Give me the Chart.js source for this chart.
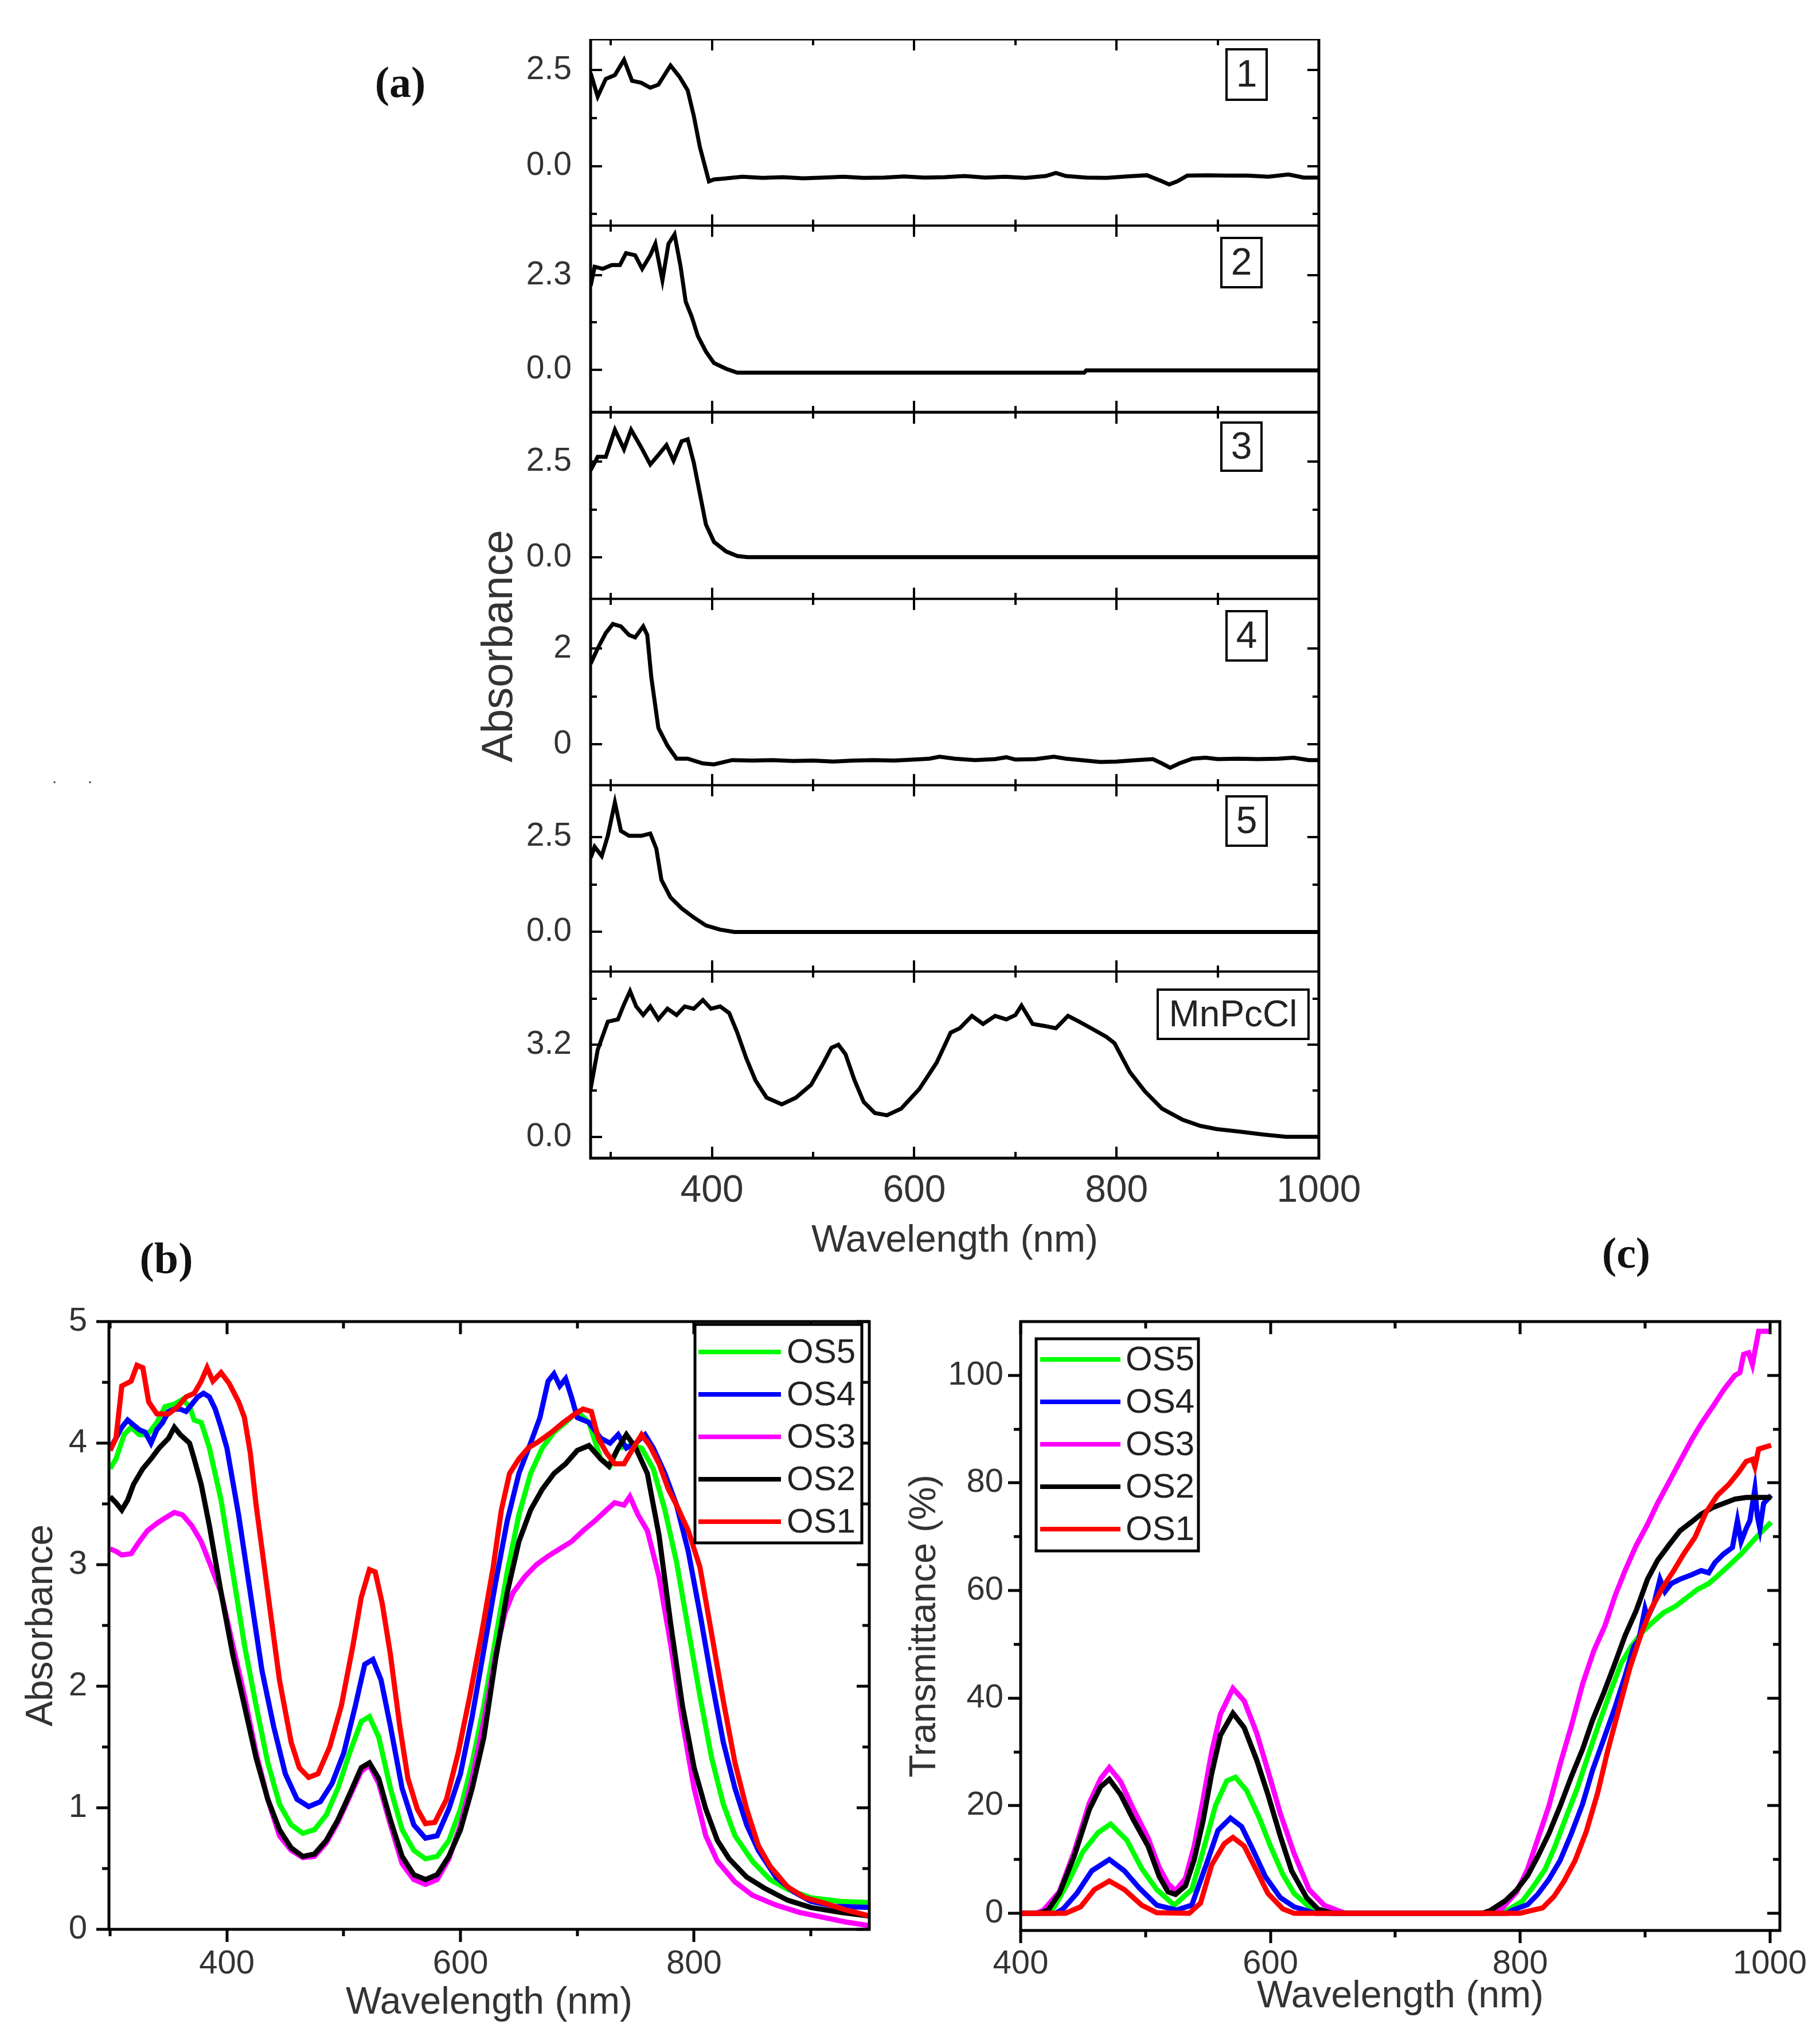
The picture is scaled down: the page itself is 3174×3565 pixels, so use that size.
<!DOCTYPE html>
<html>
<head>
<meta charset="utf-8">
<script src="https://cdn.jsdelivr.net/npm/chart.js@4.4.1/dist/chart.umd.min.js"></script>
<style>
  html, body { margin: 0; padding: 0; background: #fff; }
  body { width: 3174px; height: 3565px; position: relative; overflow: hidden; font-family: "Liberation Sans", Arial, sans-serif; }
  .tag { position: absolute; transform: translate(-50%, -50%); white-space: nowrap; }
  .panel { font-family: "Liberation Serif", "Times New Roman", serif; font-weight: bold; font-size: 76px; color: #111; }
  .ytitle { font-size: 76px; color: #333; transform: translate(-50%, -50%) rotate(-90deg); }
  .dot { font-size: 30px; color: #444; }
</style>
</head>
<body>
<div class="tag panel" style="left:698px;top:143px">(a)</div>
<div class="tag panel" style="left:290px;top:2194px">(b)</div>
<div class="tag panel" style="left:2836px;top:2185px">(c)</div>
<div class="tag ytitle" style="left:866px;top:1127px">Absorbance</div>
<div class="tag dot" style="left:95px;top:1356px">.</div>
<div class="tag dot" style="left:157px;top:1356px">.</div>

<script>
// ---- Panel (a): absorbance of the films, one small panel per sample ----
const panelLabels = ['1', '2', '3', '4', '5', 'MnPcCl']

const absA1 = [[280,2.42],[287,1.81],[295,2.27],[304,2.37],[313,2.77],[321,2.22],[330,2.17],[339,2.04],[347,2.12],[359,2.62],[368,2.32],[376,1.97],[382,1.31],[388,0.5],[397,-0.4],[402,-0.35],[410,-0.33],[430,-0.28],[450,-0.31],[470,-0.29],[490,-0.32],[510,-0.30],[530,-0.28],[550,-0.31],[570,-0.30],[590,-0.27],[610,-0.30],[630,-0.29],[650,-0.26],[670,-0.30],[690,-0.28],[710,-0.31],[730,-0.26],[740,-0.18],[750,-0.26],[770,-0.30],[790,-0.31],[810,-0.27],[830,-0.24],[845,-0.40],[852,-0.48],[860,-0.40],[870,-0.25],[890,-0.24],[910,-0.25],[930,-0.25],[950,-0.28],[970,-0.22],[985,-0.30],[1000,-0.30]]
const absA2 = [[280,2.04],[284,2.51],[292,2.46],[301,2.55],[309,2.55],[315,2.84],[324,2.79],[331,2.46],[339,2.79],[344,3.07],[351,2.18],[357,3.07],[363,3.30],[369,2.51],[374,1.66],[380,1.29],[386,0.82],[394,0.44],[402,0.16],[414,0.02],[425,-0.075],[768,-0.075],[770,-0.02],[1000,-0.02]]
const absA3 = [[280,2.28],[287,2.63],[295,2.63],[304,3.34],[313,2.83],[320,3.34],[330,2.88],[339,2.43],[347,2.68],[355,2.94],[362,2.53],[370,3.04],[376,3.09],[382,2.48],[388,1.67],[394,0.86],[402,0.40],[414,0.15],[425,0.03],[435,0.0],[1000,0.0]]
const absA4 = [[280,1.68],[287,2.0],[295,2.32],[302,2.51],[310,2.46],[318,2.28],[324,2.23],[332,2.46],[336,2.28],[340,1.40],[347,0.34],[356,-0.03],[365,-0.30],[376,-0.30],[391,-0.40],[402,-0.42],[420,-0.33],[440,-0.34],[460,-0.33],[480,-0.35],[500,-0.34],[520,-0.36],[540,-0.34],[560,-0.33],[580,-0.34],[600,-0.32],[615,-0.30],[625,-0.26],[640,-0.30],[660,-0.33],[680,-0.31],[691,-0.27],[700,-0.32],[720,-0.31],[738,-0.26],[750,-0.30],[765,-0.33],[784,-0.37],[800,-0.36],[820,-0.33],[836,-0.31],[845,-0.40],[853,-0.49],[862,-0.40],[875,-0.30],[888,-0.28],[900,-0.31],[920,-0.30],[940,-0.31],[960,-0.30],[975,-0.28],[990,-0.33],[1000,-0.33]]
const absA5 = [[280,1.95],[284,2.24],[291,2.0],[297,2.53],[304,3.41],[310,2.66],[318,2.53],[330,2.53],[339,2.59],[345,2.19],[350,1.37],[359,0.91],[370,0.62],[382,0.38],[394,0.17],[408,0.06],[422,0.0],[1000,0.0]]
const absA6 = [[280,1.66],[287,3.02],[297,4.0],[307,4.08],[313,4.6],[319,5.06],[325,4.53],[332,4.23],[339,4.53],[347,4.08],[356,4.45],[365,4.23],[373,4.53],[382,4.45],[391,4.75],[399,4.45],[408,4.53],[417,4.30],[425,3.62],[434,2.72],[443,1.96],[454,1.36],[469,1.13],[483,1.36],[498,1.81],[509,2.49],[518,3.09],[525,3.2],[532,2.87],[541,1.96],[550,1.21],[561,0.83],[573,0.75],[587,0.98],[605,1.66],[622,2.57],[636,3.62],[645,3.77],[657,4.2],[668,3.92],[680,4.2],[691,4.08],[700,4.23],[706,4.56],[717,3.92],[729,3.85],[740,3.77],[752,4.2],[763,4.0],[775,3.77],[790,3.47],[798,3.25],[813,2.26],[828,1.58],[845,0.98],[865,0.60],[883,0.38],[899,0.27],[922,0.18],[945,0.08],[968,0.0],[1000,0.0]]

// y ranges and tick values for each small panel
const yMinA = [-1.56, -1.04, -1.10, -0.86, -1.05, -0.74]
const yMaxA = [3.31, 3.52, 3.80, 3.04, 3.87, 5.75]
const yMajorA = [[0, 2.5], [0, 2.3], [0, 2.5], [0, 2], [0, 2.5], [0, 3.2]]
const yMinorA = [[-1.25, 1.25], [1.15], [1.25], [1], [1.25], [1.6, 4.8]]
const yDecA = [1, 1, 1, 0, 1, 1]
const xTicksA = [400, 600, 800, 1000]
const xMinorA = [300, 500, 700, 900]

// ---- Panel (b): absorbance of OS1..OS5 ----
const os1Abs = [[300,3.94],[305,4.04],[310,4.47],[318,4.51],[323,4.64],[328,4.62],[333,4.34],[340,4.24],[350,4.24],[358,4.30],[365,4.38],[372,4.41],[378,4.51],[383,4.62],[388,4.51],[395,4.58],[402,4.49],[410,4.34],[415,4.21],[420,3.92],[425,3.49],[435,2.77],[445,2.05],[455,1.54],[462,1.33],[470,1.25],[478,1.28],[488,1.50],[498,1.84],[508,2.34],[515,2.73],[522,2.96],[527,2.94],[533,2.68],[540,2.26],[548,1.67],[555,1.24],[563,0.99],[570,0.87],[578,0.88],[588,1.07],[598,1.45],[608,1.92],[618,2.43],[628,2.98],[635,3.45],[642,3.75],[650,3.87],[658,3.96],[668,4.02],[678,4.09],[688,4.17],[698,4.24],[705,4.28],[712,4.26],[718,4.04],[725,3.92],[732,3.83],[740,3.83],[748,3.96],[755,4.07],[762,3.98],[770,3.83],[778,3.62],[785,3.49],[795,3.28],[805,2.98],[815,2.43],[825,1.88],[835,1.37],[845,0.99],[855,0.69],[865,0.52],[880,0.35],[895,0.26],[910,0.22],[930,0.16],[950,0.11]]
const os2Abs = [[300,3.56],[305,3.51],[310,3.45],[315,3.53],[320,3.66],[328,3.79],[335,3.87],[342,3.96],[350,4.04],[355,4.13],[360,4.07],[368,4.0],[372,3.87],[378,3.66],[385,3.32],[395,2.77],[405,2.26],[415,1.84],[425,1.41],[435,1.07],[445,0.82],[455,0.67],[465,0.60],[475,0.62],[485,0.73],[495,0.90],[505,1.11],[515,1.33],[522,1.37],[530,1.24],[540,0.90],[550,0.60],[560,0.45],[570,0.41],[580,0.45],[590,0.60],[600,0.82],[610,1.16],[620,1.58],[630,2.22],[640,2.77],[650,3.19],[660,3.45],[670,3.62],[680,3.75],[690,3.83],[700,3.94],[710,3.98],[720,3.87],[727,3.81],[735,3.96],[742,4.07],[750,3.96],[760,3.75],[770,3.24],[780,2.51],[790,1.84],[800,1.33],[810,0.99],[820,0.73],[830,0.58],[845,0.43],[860,0.34],[880,0.24],[900,0.18],[925,0.14],[950,0.11]]
const os3Abs = [[300,3.13],[305,3.11],[310,3.08],[318,3.09],[325,3.19],[332,3.28],[340,3.34],[348,3.39],[355,3.43],[362,3.41],[370,3.32],[378,3.19],[385,3.02],[395,2.77],[405,2.34],[415,1.92],[425,1.45],[435,1.07],[445,0.77],[455,0.65],[465,0.59],[475,0.60],[485,0.71],[495,0.88],[505,1.09],[515,1.30],[522,1.35],[530,1.20],[540,0.86],[550,0.54],[560,0.41],[570,0.37],[580,0.41],[590,0.58],[600,0.86],[610,1.24],[620,1.71],[630,2.26],[638,2.60],[645,2.77],[655,2.90],[665,3.0],[675,3.07],[685,3.13],[695,3.19],[705,3.28],[715,3.36],[725,3.45],[732,3.51],[740,3.49],[745,3.56],[752,3.41],[760,3.28],[770,2.90],[780,2.34],[790,1.71],[800,1.16],[810,0.77],[820,0.56],[835,0.39],[850,0.28],[870,0.20],[890,0.14],[910,0.10],[930,0.06],[950,0.03]]
const os4Abs = [[300,3.96],[305,4.04],[310,4.13],[315,4.19],[320,4.15],[325,4.11],[330,4.09],[335,4.0],[340,4.11],[345,4.17],[350,4.26],[355,4.28],[360,4.28],[365,4.26],[370,4.32],[375,4.38],[380,4.41],[385,4.38],[390,4.28],[395,4.13],[400,3.96],[410,3.41],[420,2.77],[430,2.13],[440,1.67],[450,1.28],[460,1.07],[470,1.01],[480,1.05],[490,1.20],[500,1.45],[510,1.84],[518,2.18],[525,2.22],[532,2.05],[540,1.67],[550,1.16],[560,0.86],[570,0.75],[580,0.77],[590,0.99],[600,1.28],[610,1.75],[620,2.30],[630,2.85],[640,3.36],[650,3.75],[660,4.0],[668,4.21],[675,4.51],[680,4.57],[685,4.47],[690,4.53],[695,4.38],[700,4.21],[710,4.17],[720,4.04],[728,4.0],[735,4.07],[742,3.96],[750,4.0],[758,4.07],[765,3.96],[775,3.75],[785,3.49],[795,3.11],[805,2.60],[815,2.05],[825,1.54],[835,1.16],[845,0.86],[855,0.65],[870,0.43],[885,0.31],[900,0.23],[920,0.19],[950,0.18]]
const os5Abs = [[300,3.79],[305,3.87],[312,4.07],[318,4.13],[325,4.07],[332,4.07],[340,4.17],[347,4.30],[355,4.32],[362,4.36],[368,4.30],[372,4.19],[378,4.17],[385,3.96],[395,3.53],[405,2.94],[415,2.34],[425,1.84],[435,1.37],[445,1.03],[455,0.86],[465,0.79],[475,0.82],[485,0.94],[495,1.16],[505,1.45],[515,1.71],[522,1.75],[530,1.58],[540,1.16],[550,0.82],[560,0.65],[570,0.58],[580,0.60],[590,0.73],[600,0.99],[610,1.37],[620,1.84],[630,2.39],[640,2.94],[650,3.41],[660,3.75],[670,3.96],[680,4.09],[690,4.17],[700,4.26],[710,4.17],[720,3.87],[728,3.81],[735,3.96],[745,3.98],[755,3.96],[765,3.79],[775,3.45],[785,3.02],[795,2.47],[805,1.92],[815,1.41],[825,1.03],[835,0.77],[850,0.56],[865,0.41],[880,0.33],[900,0.26],[925,0.23],[950,0.22]]

// ---- Panel (c): transmittance (%) of OS1..OS5 ----
const os1Trans = [[400,0],[436,0],[448,1.2],[459,4.4],[471,6.0],[483,4.4],[497,1.5],[509,0.1],[535,0],[544,1.9],[553,9.0],[563,12.9],[570,14.1],[579,12.5],[589,7.9],[598,3.7],[610,0.8],[619,0],[800,0],[807,0.4],[818,1.0],[827,3.1],[835,5.9],[844,9.8],[853,15.2],[862,22.3],[870,30.1],[879,37.9],[888,45.7],[897,52.0],[905,56.6],[914,60.5],[923,63.7],[931,66.8],[940,69.9],[949,74.6],[958,77.7],[967,79.7],[975,82.0],[981,84.0],[986,84.4],[988,83.0],[991,86.3],[1001,87.0]]
const os2Trans = [[400,0],[415,0],[422,0.6],[431,3.7],[443,10.7],[455,19.3],[464,23.5],[471,24.9],[480,22.1],[490,17.5],[502,12.5],[511,6.8],[518,4.0],[524,3.5],[532,5.1],[539,10.0],[546,17.1],[553,26.0],[560,33.1],[570,37.2],[579,34.5],[589,28.5],[598,22.1],[608,14.3],[617,7.9],[629,2.9],[638,0.8],[645,0.3],[650,0],[770,0],[776,0.5],[788,2.3],[797,4.3],[806,7.0],[814,10.5],[823,14.8],[832,19.9],[841,25.4],[850,30.5],[858,35.9],[867,41.0],[876,46.5],[884,51.6],[893,56.3],[902,62.1],[910,65.6],[919,68.4],[928,71.1],[937,72.7],[945,74.2],[954,75.4],[963,76.2],[972,77.0],[981,77.3],[1001,77.3]]
const os3Trans = [[400,0],[412,0],[418,0.5],[431,4.0],[443,11.5],[455,20.5],[464,25.0],[471,27.1],[480,24.5],[490,19.5],[502,14.0],[511,8.5],[518,5.5],[524,4.2],[532,6.5],[539,12.5],[546,21.0],[553,30.0],[560,37.0],[570,41.8],[579,39.5],[589,33.5],[598,26.5],[608,18.5],[619,11.1],[631,4.4],[643,1.5],[654,0.5],[660,0],[775,0],[785,0.8],[797,3.9],[806,8.2],[814,13.7],[823,19.9],[832,27.7],[841,34.8],[850,42.6],[859,48.8],[868,53.5],[876,59.0],[884,63.7],[893,68.4],[902,72.3],[910,76.2],[919,80.1],[928,84.0],[937,87.9],[945,91.0],[954,94.1],[963,97.3],[972,100.0],[976,100.5],[979,103.9],[983,104.2],[986,102.0],[988,104.5],[991,108.2],[1001,108.2]]
const os4Trans = [[400,0],[428,0],[434,0.8],[445,3.7],[457,7.9],[471,10.0],[483,7.9],[495,4.7],[509,1.5],[525,0.6],[537,1.5],[549,9.3],[558,15.4],[568,17.7],[577,16.1],[586,11.8],[596,6.8],[608,2.9],[619,1.2],[629,0.5],[636,0],[790,0],[793,0.5],[806,1.6],[814,3.5],[823,6.3],[832,9.8],[841,14.8],[850,20.3],[858,26.6],[867,32.4],[876,38.3],[884,44.1],[891,49.6],[895,50.8],[900,56.6],[902,55.0],[907,57.4],[912,62.1],[916,59.8],[921,61.3],[928,62.1],[937,62.9],[945,63.7],[951,63.3],[956,65.2],[963,66.8],[970,68.0],[974,73.0],[977,69.1],[981,71.5],[984,73.0],[988,78.9],[990,73.8],[992,71.5],[995,76.2],[1001,77.7]]
const os5Trans = [[400,0],[422,0],[427,1.2],[438,5.8],[450,11.5],[462,15.0],[472,16.6],[485,13.6],[497,8.3],[509,4.4],[523,1.5],[537,4.4],[546,11.5],[556,20.0],[565,24.6],[572,25.3],[581,22.8],[591,17.8],[600,12.5],[610,7.2],[619,3.7],[631,1.2],[638,0.5],[645,0],[785,0],[793,1.0],[802,2.3],[811,5.1],[820,8.2],[828,12.5],[837,18.0],[846,23.4],[855,29.7],[863,35.2],[872,41.0],[881,46.5],[889,49.6],[898,52.3],[907,54.3],[915,55.9],[924,57.0],[933,58.6],[942,60.2],[951,61.3],[959,62.9],[968,64.8],[977,66.8],[986,69.1],[994,71.1],[1001,72.7]]

const seriesNames = ['OS1', 'OS2', 'OS3', 'OS4', 'OS5']
const seriesColors = ['#ff0000', '#000000', '#ff00ff', '#0000ff', '#00ff00']
const legendOrder = ['OS5', 'OS4', 'OS3', 'OS2', 'OS1']

const SANS = '"Liberation Sans", Arial, sans-serif'
const TXT = '#333'

// frame + Origin style ticks drawn through the chart scales
const framePlugin = {
  id: 'frame',
  afterDatasetsDraw(chart, args, o) {
    if (!o.xMajor) return
    const { ctx, chartArea: a, scales: { x, y } } = chart
    const outL = o.outside ? -1 : 1
    ctx.save()
    ctx.strokeStyle = '#000'
    ctx.lineCap = 'butt'
    const drawX = (vals, len) => vals.forEach(v => {
      const p = Math.round(x.getPixelForValue(v))
      ctx.moveTo(p, a.bottom); ctx.lineTo(p, a.bottom - outL * len)
      ctx.moveTo(p, a.top); ctx.lineTo(p, a.top + len)
    })
    const drawY = (vals, len) => vals.forEach(v => {
      const p = Math.round(y.getPixelForValue(v))
      ctx.moveTo(a.left, p); ctx.lineTo(a.left + outL * len, p)
      ctx.moveTo(a.right, p); ctx.lineTo(a.right - len, p)
    })
    ctx.lineWidth = o.tickWidth
    ctx.beginPath()
    drawX(o.xMajor, o.major); drawY(o.yMajor, o.major)
    drawX(o.xMinor, o.minor); drawY(o.yMinor, o.minor)
    ctx.stroke()
    ctx.lineWidth = o.lineWidth
    ctx.strokeRect(a.left, a.top, a.right - a.left, a.bottom - a.top)
    ctx.restore()
  }
}

// boxed sample name in the corner of each small panel
const tagPlugin = {
  id: 'tag',
  afterDatasetsDraw(chart, args, o) {
    if (!o.text) return
    const { ctx, chartArea: a } = chart
    const x = a.right - o.right - o.w
    const y = a.top + o.top
    ctx.save()
    ctx.fillStyle = '#fff'
    ctx.fillRect(x, y, o.w, o.h)
    ctx.lineWidth = 4
    ctx.strokeStyle = '#000'
    ctx.strokeRect(x, y, o.w, o.h)
    ctx.fillStyle = '#222'
    ctx.font = `${o.size}px ${SANS}`
    ctx.textAlign = 'center'
    ctx.textBaseline = 'middle'
    ctx.fillText(o.text, x + o.w / 2, y + o.h / 2 + 3)
    ctx.restore()
  }
}

// legend box inside the plot, like the Origin one
const boxLegend = {
  id: 'boxLegend',
  afterDraw(chart, args, o) {
    if (!o.order) return
    const { ctx, chartArea: a } = chart
    const x = o.left != null ? a.left + o.left : a.right - o.right - o.w
    const y = a.top + o.top
    ctx.save()
    ctx.fillStyle = '#fff'
    ctx.fillRect(x, y, o.w, o.h)
    ctx.lineWidth = 5
    ctx.strokeStyle = '#000'
    ctx.strokeRect(x, y, o.w, o.h)
    ctx.font = `${o.size}px ${SANS}`
    ctx.textBaseline = 'middle'
    o.order.forEach((name, k) => {
      const ds = chart.data.datasets.find(d => d.label === name)
      const cy = y + o.first + k * o.rowH
      ctx.strokeStyle = ds.borderColor
      ctx.lineWidth = 8
      ctx.beginPath()
      ctx.moveTo(x + o.pad, cy)
      ctx.lineTo(x + o.pad + o.sample, cy)
      ctx.stroke()
      ctx.fillStyle = '#222'
      ctx.fillText(name, x + o.pad + o.sample + o.gap, cy + 2)
    })
    ctx.restore()
  }
}

Chart.register(framePlugin, tagPlugin, boxLegend)

const toPoints = arr => arr.map(([x, y]) => ({ x, y }))

function makeCanvas(left, top, w, h) {
  const c = document.createElement('canvas')
  c.width = w
  c.height = h
  c.style.cssText = `position:absolute;left:${left}px;top:${top}px;width:${w}px;height:${h}px`
  document.body.appendChild(c)
  return c
}

function linearAxis(p) {
  return {
    type: 'linear',
    min: p.min,
    max: p.max,
    grid: { display: false, drawTicks: false },
    border: { display: false },
    afterBuildTicks: s => { s.ticks = p.ticks.map(v => ({ value: v })) },
    ticks: {
      display: p.show !== false,
      autoSkip: false,
      maxRotation: 0,
      padding: p.pad,
      color: TXT,
      font: { family: SANS, size: p.size },
      callback: v => v.toFixed(p.dec || 0)
    },
    title: p.title ? {
      display: true,
      text: p.title,
      color: TXT,
      font: { family: SANS, size: p.titleSize },
      padding: p.titlePad
    } : { display: false },
    afterFit: s => {
      if (s.isHorizontal()) {
        s.height = p.fit
        s.paddingLeft = 0
        s.paddingRight = 0
      } else {
        s.width = p.fit
        s.paddingTop = 0
        s.paddingBottom = 0
      }
    }
  }
}

function baseOptions(extra) {
  return Object.assign({
    responsive: false,
    animation: false,
    devicePixelRatio: 1,
    events: [],
    elements: { point: { radius: 0 }, line: { tension: 0 } }
  }, extra)
}

// ---- draw panel (a) ----
const absA = [absA1, absA2, absA3, absA4, absA5, absA6]
const tagBoxes = [
  { right: 91, top: 18, w: 70, h: 88 },
  { right: 100, top: 22, w: 70, h: 86 },
  { right: 100, top: 18, w: 70, h: 84 },
  { right: 91, top: 22, w: 70, h: 86 },
  { right: 91, top: 20, w: 70, h: 86 },
  { right: 18, top: 32, w: 263, h: 86 }
]
const aTops = [68, 393, 719, 1044, 1369, 1694]

absA.forEach((series, i) => {
  const last = i === absA.length - 1
  const plotH = 326
  const xFit = last ? 190 : 0
  const canvas = makeCanvas(850, aTops[i], 1530, plotH + xFit)
  new Chart(canvas, {
    type: 'line',
    data: {
      datasets: [{
        label: panelLabels[i],
        data: toPoints(series),
        borderColor: '#000',
        borderWidth: 7
      }]
    },
    options: baseOptions({
      layout: { padding: { left: 0, right: 80, top: 0, bottom: 0 } },
      scales: {
        x: linearAxis({
          min: 280, max: 1000, ticks: xTicksA, show: last, pad: 18, size: 66, fit: xFit,
          title: last ? 'Wavelength (nm)' : null, titleSize: 66, titlePad: { top: 0, bottom: 6 }
        }),
        y: linearAxis({
          min: yMinA[i], max: yMaxA[i], ticks: yMajorA[i], dec: yDecA[i], pad: 33, size: 57, fit: 180
        })
      },
      plugins: {
        legend: { display: false },
        tooltip: { enabled: false },
        frame: {
          xMajor: xTicksA, xMinor: xMinorA, yMajor: yMajorA[i], yMinor: yMinorA[i],
          major: 20, minor: 11, tickWidth: 4, lineWidth: 5, outside: false
        },
        tag: Object.assign({ text: panelLabels[i], size: panelLabels[i].length > 1 ? 64 : 66 }, tagBoxes[i])
      }
    })
  })
})

// ---- draw panels (b) and (c) ----
function seriesSets(list) {
  return list.map((arr, k) => ({
    label: seriesNames[k],
    data: toPoints(arr),
    borderColor: seriesColors[k],
    borderWidth: 9
  }))
}

const canvasB = makeCanvas(0, 2200, 1560, 1360)
new Chart(canvasB, {
  type: 'line',
  data: { datasets: seriesSets([os1Abs, os2Abs, os3Abs, os4Abs, os5Abs]) },
  options: baseOptions({
    layout: { padding: { left: 0, right: 44, top: 105, bottom: 0 } },
    scales: {
      x: linearAxis({
        min: 299, max: 950, ticks: [400, 600, 800], pad: 26, size: 58, fit: 195,
        title: 'Wavelength (nm)', titleSize: 66, titlePad: { top: 0, bottom: 27 }
      }),
      y: linearAxis({
        min: 0, max: 5, ticks: [0, 1, 2, 3, 4, 5], pad: 38, size: 58, fit: 190,
        title: 'Absorbance', titleSize: 66, titlePad: { top: 33, bottom: 0 }
      })
    },
    plugins: {
      legend: { display: false },
      tooltip: { enabled: false },
      frame: {
        xMajor: [400, 600, 800], xMinor: [300, 500, 700, 900],
        yMajor: [0, 1, 2, 3, 4, 5], yMinor: [0.5, 1.5, 2.5, 3.5, 4.5],
        major: 22, minor: 12, tickWidth: 5, lineWidth: 5, outside: true
      },
      boxLegend: {
        order: legendOrder, right: 13, top: 5, w: 291, h: 381,
        first: 48, rowH: 74, pad: 6, sample: 144, gap: 10, size: 60
      }
    }
  })
})

const canvasC = makeCanvas(1560, 2200, 1614, 1360)
new Chart(canvasC, {
  type: 'line',
  data: { datasets: seriesSets([os1Trans, os2Trans, os3Trans, os4Trans, os5Trans]) },
  options: baseOptions({
    layout: { padding: { left: 0, right: 70, top: 105, bottom: 0 } },
    scales: {
      x: linearAxis({
        min: 400, max: 1008, ticks: [400, 600, 800, 1000], pad: 24, size: 58, fit: 193,
        title: 'Wavelength (nm)', titleSize: 66, titlePad: { top: 0, bottom: 38 }
      }),
      y: linearAxis({
        min: -3.2, max: 110, ticks: [0, 20, 40, 60, 80, 100], pad: 30, size: 58, fit: 220,
        title: 'Transmittance (%)', titleSize: 65, titlePad: { top: 14, bottom: 0 }
      })
    },
    plugins: {
      legend: { display: false },
      tooltip: { enabled: false },
      frame: {
        xMajor: [400, 600, 800, 1000], xMinor: [500, 700, 900],
        yMajor: [0, 20, 40, 60, 80, 100], yMinor: [10, 30, 50, 70, 90],
        major: 22, minor: 12, tickWidth: 5, lineWidth: 5, outside: true
      },
      boxLegend: {
        order: legendOrder, left: 27, top: 30, w: 283, h: 370,
        first: 36, rowH: 74, pad: 7, sample: 140, gap: 9, size: 60
      }
    }
  })
})
</script>
</body>
</html>
